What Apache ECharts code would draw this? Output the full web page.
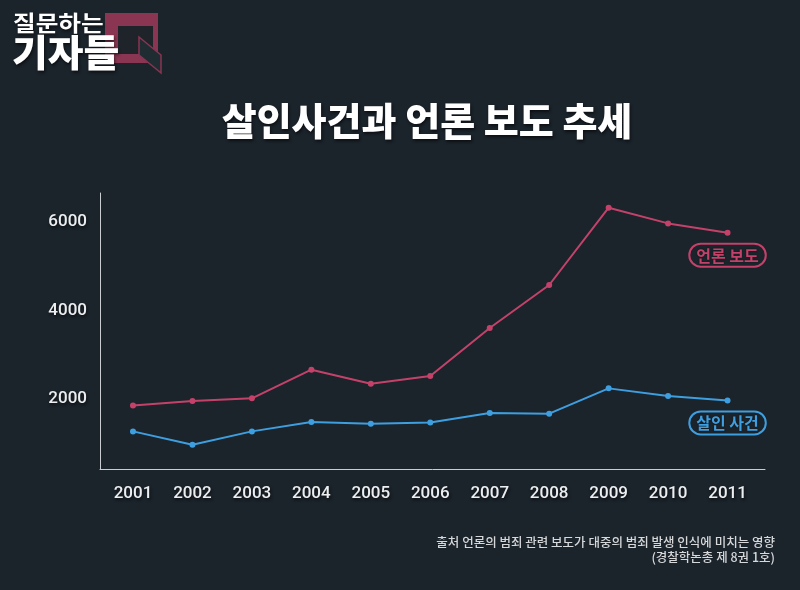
<!DOCTYPE html>
<html><head><meta charset="utf-8">
<script src="https://cdn.jsdelivr.net/npm/echarts@6/dist/echarts.min.js"></script>
<style>html,body{margin:0;padding:0;background:#1b232b;}#c{width:800px;height:590px;}</style>
</head><body><div id="c"></div>
<script>
const years = [2001,2002,2003,2004,2005,2006,2007,2008,2009,2010,2011];
const mediaReports = [1855,1955,2014,2662,2346,2520,3604,4576,6323,5968,5758];
const murderCases = [1268,967,1268,1480,1442,1471,1684,1668,2240,2068,1968];
const yTicks = [2000,4000,6000];
const titleText = '살인사건과 언론 보도 추세';
const mediaName = '언론 보도';
const murderName = '살인 사건';
const sourceLines = ['출처 언론의 범죄 관련 보도가 대중의 범죄 발생 인식에 미치는 영향','(경찰학논총 제 8권 1호)'];

const RED = '#c4426a', BLUE = '#3e9fe0', MAROON = '#8a3552';
const FONT = '"Noto Sans CJK KR","Noto Sans",sans-serif';
const chart = echarts.init(document.getElementById('c'), null, {renderer:'canvas'});

function pts(vals){ return vals.map((v,i)=>[years[i], v]); }
function endLabel(color){
  return {show:true, position:'bottom', distance:8, formatter:'{a}', color:color,
    fontFamily:FONT, fontSize:16, fontWeight:'bold', borderColor:color, borderWidth:2,
    borderRadius:15, padding:[4,7,3,7], textShadowColor:'rgba(0,0,0,0.4)', textShadowBlur:2};
}
const shadow = {textShadowColor:'rgba(0,0,0,0.55)', textShadowBlur:3, textShadowOffsetX:1, textShadowOffsetY:2};
const axisLbl = {formatter:v=>String(v), color:'#eceef0', fontFamily:'Roboto', fontWeight:500, fontSize:17, ...shadow};

chart.setOption({
  backgroundColor:'#1b232b',
  animation:false,
  grid:{left:100, top:193, right:35, bottom:121},
  xAxis:{type:'value', min:2000.445, max:2011.63,
    axisLine:{show:true, lineStyle:{color:'#c9cdd1', width:1}},
    axisTick:{show:false}, splitLine:{show:false},
    axisLabel:{customValues:years, margin:16, ...axisLbl}},
  yAxis:{type:'value', min:418, max:6655,
    axisLine:{show:true, lineStyle:{color:'#c9cdd1', width:1}},
    axisTick:{show:false}, splitLine:{show:false},
    axisLabel:{customValues:yTicks, margin:13, padding:[9,0,0,0], ...axisLbl}},
  series:[
    {name:mediaName, type:'line', data:pts(mediaReports).map((p,i)=> i===years.length-1 ? {value:p, label:endLabel(RED)} : p),
      symbol:'circle', symbolSize:6, lineStyle:{color:RED, width:2}, itemStyle:{color:RED}},
    {name:murderName, type:'line', data:pts(murderCases).map((p,i)=> i===years.length-1 ? {value:p, label:endLabel(BLUE)} : p),
      symbol:'circle', symbolSize:6, lineStyle:{color:BLUE, width:2}, itemStyle:{color:BLUE}}
  ],
  graphic:[
    {type:'text', x:427, y:121, style:{text:titleText, fill:'#ffffff', font:'900 38px '+FONT, textAlign:'center', textVerticalAlign:'middle', ...shadow}, z:10},
    {type:'text', x:775, y:542, style:{text:sourceLines[0], fill:'#d6d8da', font:'500 12.5px '+FONT, textAlign:'right', textVerticalAlign:'middle'}},
    {type:'text', x:775, y:557, style:{text:sourceLines[1], fill:'#d6d8da', font:'500 12.5px '+FONT, textAlign:'right', textVerticalAlign:'middle'}},
    // logo
    {type:'rect', shape:{x:105, y:13, width:53, height:50}, style:{fill:MAROON}},
    {type:'rect', shape:{x:118, y:26, width:35, height:28}, style:{fill:'#1e2429'}},
    {type:'polygon', shape:{points:[[139,37],[161,55],[161,73],[139,55]]}, style:{fill:'#1f2d33', stroke:MAROON, lineWidth:1.5}},
    {type:'text', x:13, y:23, scaleX:1.12, style:{text:'질문하는', fill:'#ffffff', font:'bold 22px '+FONT, textVerticalAlign:'middle', ...shadow}, z:20},
    {type:'text', x:12, y:53, scaleX:1.05, style:{text:'기자들', fill:'#ffffff', font:'900 37px '+FONT, textVerticalAlign:'middle', ...shadow}, z:20}
  ]
});
</script></body></html>
